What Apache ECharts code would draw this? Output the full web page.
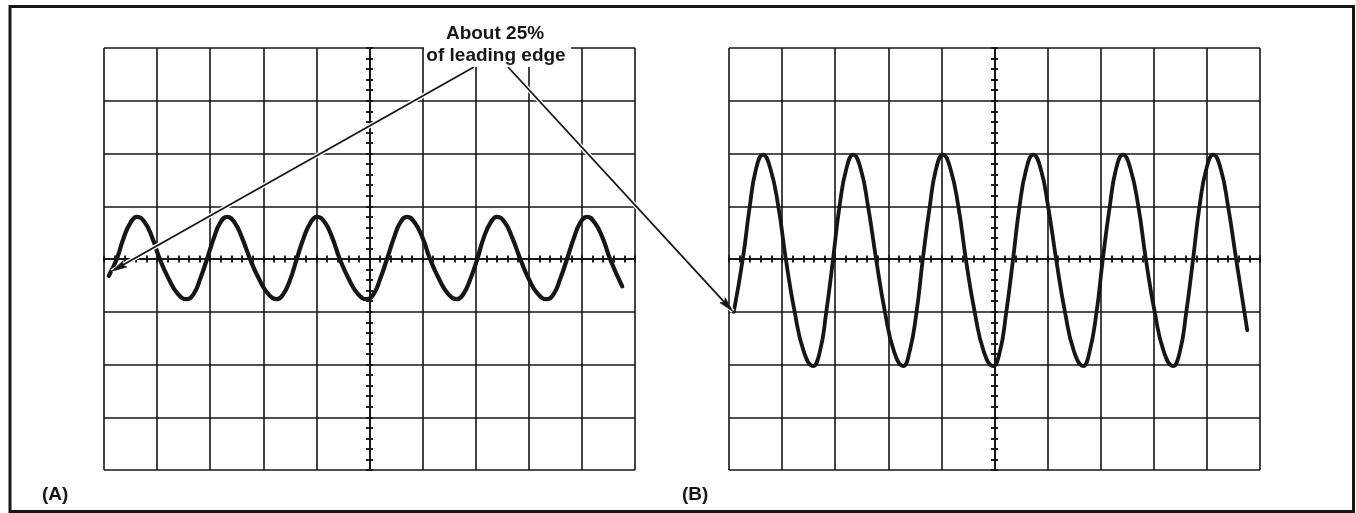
<!DOCTYPE html>
<html>
<head>
<meta charset="utf-8">
<script src="https://cdn.jsdelivr.net/npm/echarts@6/dist/echarts.min.js"></script>
<style>
html,body{margin:0;padding:0;background:#fff;}
#c{width:1356px;height:513px;}
</style>
</head>
<body>
<div id="c"></div>
<script>
// ---- data (graticule divisions, centre of screen = 0,0) ----
const traceA_x = [-4.91,
  -4.76, -4.63, -4.50, -4.38, -4.23, -4.09, -3.95, -3.78, -3.61, -3.44, -3.31, -3.19,
  -3.06, -2.93, -2.81, -2.68, -2.54, -2.40, -2.25, -2.08, -1.91, -1.74, -1.62, -1.49,
  -1.37, -1.24, -1.11, -0.99, -0.84, -0.70, -0.56, -0.39, -0.22, -0.05, 0.08, 0.20,
  0.33, 0.46, 0.58, 0.71, 0.85, 1.00, 1.14, 1.31, 1.48, 1.65, 1.77, 1.90,
  2.03, 2.15, 2.28, 2.40, 2.55, 2.69, 2.84, 3.00, 3.17, 3.34, 3.47, 3.59,
  3.72, 3.85, 3.97, 4.10, 4.24, 4.39, 4.53, 4.76];
const traceA_y = [-0.32,
  0, 0.40, 0.69, 0.80, 0.69, 0.40, 0, -0.38, -0.66, -0.76, -0.66, -0.38,
  0, 0.40, 0.69, 0.80, 0.69, 0.40, 0, -0.38, -0.66, -0.76, -0.66, -0.38,
  0, 0.40, 0.69, 0.80, 0.69, 0.40, 0, -0.38, -0.66, -0.76, -0.66, -0.38,
  0, 0.40, 0.69, 0.80, 0.69, 0.40, 0, -0.38, -0.66, -0.76, -0.66, -0.38,
  0, 0.40, 0.69, 0.80, 0.69, 0.40, 0, -0.38, -0.66, -0.76, -0.66, -0.38,
  0, 0.40, 0.69, 0.80, 0.69, 0.40, 0, -0.52];
const traceB_x = [-4.91,
  -4.74, -4.61, -4.49, -4.36, -4.22, -4.07, -3.93, -3.76, -3.59, -3.42, -3.29, -3.17,
  -3.04, -2.92, -2.79, -2.66, -2.52, -2.38, -2.23, -2.06, -1.89, -1.72, -1.60, -1.47,
  -1.35, -1.22, -1.10, -0.97, -0.83, -0.68, -0.54, -0.37, -0.20, -0.03, 0.10, 0.22,
  0.35, 0.47, 0.60, 0.73, 0.87, 1.01, 1.16, 1.33, 1.50, 1.67, 1.79, 1.92,
  2.04, 2.17, 2.29, 2.42, 2.56, 2.71, 2.85, 3.02, 3.19, 3.36, 3.49, 3.61,
  3.74, 3.86, 3.99, 4.12, 4.26, 4.40, 4.55, 4.76];
const traceB_y = [-1.00,
  0, 0.99, 1.71, 1.98, 1.71, 0.99, 0, -1.02, -1.76, -2.03, -1.76, -1.02,
  0, 0.99, 1.71, 1.98, 1.71, 0.99, 0, -1.02, -1.76, -2.03, -1.76, -1.02,
  0, 0.99, 1.71, 1.98, 1.71, 0.99, 0, -1.02, -1.76, -2.03, -1.76, -1.02,
  0, 0.99, 1.71, 1.98, 1.71, 0.99, 0, -1.02, -1.76, -2.03, -1.76, -1.02,
  0, 0.99, 1.71, 1.98, 1.71, 0.99, 0, -1.02, -1.76, -2.03, -1.76, -1.02,
  0, 0.99, 1.71, 1.98, 1.71, 0.99, 0, -1.35];
const arrowTipA = [-4.85, -0.23];
const arrowTipB = [-4.93, -0.99];
const panelLabels = ['(A)', '(B)'];
const noteLines = ['About 25%', 'of leading edge'];

// ---- chart ----
const INK = '#161616';
const chart = echarts.init(document.getElementById('c'), null, {renderer: 'canvas'});

function axisCfg(g, pos, split, isX) {
  return {
    type: 'value', gridIndex: g, position: pos,
    min: isX ? -5 : -4, max: isX ? 5 : 4, interval: 1,
    axisLine: {show: true, onZero: true, onZeroAxisIndex: g * 2, lineStyle: {color: INK, width: 1.5}},
    axisTick: {show: true, length: 3.5, lineStyle: {color: INK, width: 1.9}},
    minorTick: {show: true, splitNumber: 5, length: 3.5, lineStyle: {color: INK, width: 1.9}},
    axisLabel: {show: false},
    splitLine: {show: split, lineStyle: {color: INK, width: 1.6}},
    minorSplitLine: {show: false}
  };
}
function pairs(xs, ys) { return xs.map((x, i) => [x, ys[i]]); }

const FONT = '"Liberation Sans", Arial, Helvetica, sans-serif';

chart.setOption({
  animation: false,
  backgroundColor: '#fff',
  grid: [
    {left: 104, top: 48, width: 531, height: 422},
    {left: 729, top: 48, width: 531, height: 422}
  ],
  xAxis: [axisCfg(0, 'bottom', true, true), axisCfg(0, 'top', false, true),
          axisCfg(1, 'bottom', true, true), axisCfg(1, 'top', false, true)],
  yAxis: [axisCfg(0, 'left', true, false), axisCfg(0, 'right', false, false),
          axisCfg(1, 'left', true, false), axisCfg(1, 'right', false, false)],
  series: [
    {type: 'line', xAxisIndex: 0, yAxisIndex: 0, data: pairs(traceA_x, traceA_y), smooth: 0.5,
     symbol: 'none', lineStyle: {color: INK, width: 4.2, cap: 'round'}, z: 5, silent: true},
    {type: 'line', xAxisIndex: 2, yAxisIndex: 2, data: pairs(traceB_x, traceB_y), smooth: 0.5,
     symbol: 'none', lineStyle: {color: INK, width: 3.8, cap: 'round'}, z: 5, silent: true}
  ]
});

function arrowEls(tail, tip) {
  const dx = tip[0] - tail[0], dy = tip[1] - tail[1];
  const len = Math.sqrt(dx * dx + dy * dy);
  const ux = dx / len, uy = dy / len, nx = -uy, ny = ux;
  const L = 15, W = 3.6;
  const bx = tip[0] - ux * L, by = tip[1] - uy * L;
  return [
    {type: 'line', z: 20, shape: {x1: tail[0], y1: tail[1], x2: tip[0], y2: tip[1]},
     style: {stroke: '#fff', lineWidth: 4.5}},
    {type: 'line', z: 21, shape: {x1: tail[0], y1: tail[1], x2: bx + ux * 4, y2: by + uy * 4},
     style: {stroke: INK, lineWidth: 1.8}},
    {type: 'polygon', z: 21, shape: {points: [[tip[0], tip[1]], [bx + nx * W, by + ny * W], [bx + ux * 3, by + uy * 3], [bx - nx * W, by - ny * W]]},
     style: {fill: INK, stroke: INK, lineWidth: 0.8}}
  ];
}

const tipA = chart.convertToPixel({seriesIndex: 0}, arrowTipA);
const tipB = chart.convertToPixel({seriesIndex: 1}, arrowTipB);

chart.setOption({
  graphic: [
    {type: 'rect', z: 1, shape: {x: 10, y: 6.5, width: 1343.5, height: 505},
     style: {fill: 'none', stroke: INK, lineWidth: 3}},
    ...arrowEls([474, 67], tipA),
    ...arrowEls([508, 67], tipB),
    {type: 'rect', z: 30, shape: {x: 424, y: 44, width: 147, height: 23}, style: {fill: '#fff'}},
    {type: 'text', z: 31, style: {text: noteLines[0], x: 495, y: 33.5, fill: INK,
      font: 'bold 19px ' + FONT, textAlign: 'center', textVerticalAlign: 'middle'}},
    {type: 'text', z: 31, style: {text: noteLines[1], x: 496, y: 55.5, fill: INK,
      font: 'bold 19px ' + FONT, textAlign: 'center', textVerticalAlign: 'middle'}},
    {type: 'text', z: 31, style: {text: panelLabels[0], x: 42, y: 495, fill: INK,
      font: 'bold 19px ' + FONT, textAlign: 'left', textVerticalAlign: 'middle'}},
    {type: 'text', z: 31, style: {text: panelLabels[1], x: 682, y: 495, fill: INK,
      font: 'bold 19px ' + FONT, textAlign: 'left', textVerticalAlign: 'middle'}}
  ]
});
</script>
</body>
</html>
